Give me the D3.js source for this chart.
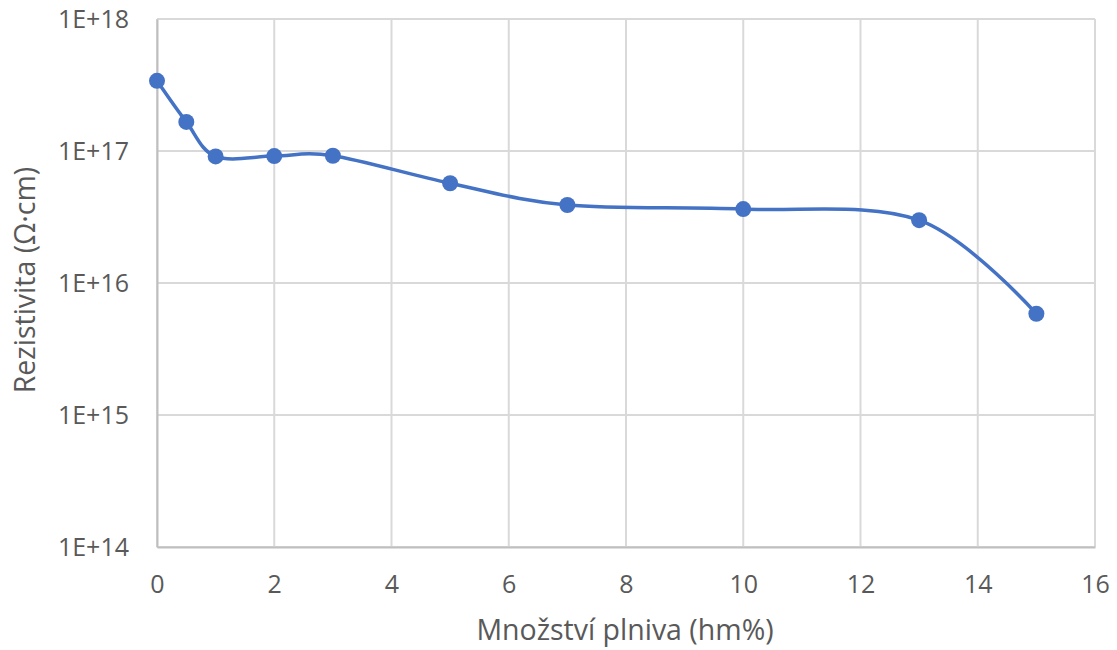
<!DOCTYPE html>
<html>
<head>
<meta charset="utf-8">
<script src="https://cdn.jsdelivr.net/npm/d3@7/dist/d3.min.js"></script>
<style>
  html, body { margin: 0; padding: 0; background: #fff; }
  svg { display: block; }
  text { font-family: "Open Sans", "Noto Sans", sans-serif; fill: #595959; }
</style>
</head>
<body>
<svg id="chart" width="1117" height="650"></svg>
<script>
// Filler content (wt%) and measured resistivity (Ω·cm)
const filler = [0, 0.5, 1, 2, 3, 5, 7, 10, 13, 15];
const resistivity = [3.4e17, 1.66e17, 9.1e16, 9.15e16, 9.2e16, 5.7e16, 3.9e16, 3.63e16, 2.99e16, 5.85e15];

const xTicks = [0, 2, 4, 6, 8, 10, 12, 14, 16];
const yTicks = [1e14, 1e15, 1e16, 1e17, 1e18];
const xTitle = "Množství plniva (hm%)";
const yTitle = "Rezistivita (Ω·cm)";

const svg = d3.select("#chart");
const margin = { left: 157, right: 22, top: 19, bottom: 103 };
const W = 1117, H = 650;

const x = d3.scaleLinear().domain([0, 16]).range([margin.left, W - margin.right]);
const y = d3.scaleLog().domain([1e14, 1e18]).range([H - margin.bottom, margin.top]);

const yFmt = v => "1E+" + Math.round(Math.log10(v));

// Gridlines
svg.append("g")
  .selectAll("line.h")
  .data(yTicks)
  .join("line")
  .attr("x1", x(0)).attr("x2", x(16))
  .attr("y1", d => y(d)).attr("y2", d => y(d))
  .attr("stroke", "#d9d9d9").attr("stroke-width", 2);

svg.append("g")
  .selectAll("line.v")
  .data(xTicks)
  .join("line")
  .attr("x1", d => x(d)).attr("x2", d => x(d))
  .attr("y1", y(1e14)).attr("y2", y(1e18))
  .attr("stroke", "#d9d9d9").attr("stroke-width", 2);

// Axes
const xAxis = svg.append("g")
  .attr("transform", `translate(0,${y(1e14)})`)
  .call(d3.axisBottom(x).tickValues(xTicks).tickSize(0).tickPadding(28).tickFormat(d3.format("d")));
xAxis.select(".domain").attr("stroke", "#bfbfbf").attr("stroke-width", 2);
xAxis.selectAll("text").style("font-size", "25px").attr("fill", "#595959");

const yAxis = svg.append("g")
  .attr("transform", `translate(${x(0)},0)`)
  .call(d3.axisLeft(y).tickValues(yTicks).tickSize(0).tickPadding(28).tickFormat(yFmt));
yAxis.select(".domain").attr("stroke", "#bfbfbf").attr("stroke-width", 2);
yAxis.selectAll("text").style("font-size", "25px").attr("fill", "#595959");

// Axis titles
svg.append("text")
  .attr("x", (x(0) + x(16)) / 2 - 1).attr("y", 632)
  .attr("text-anchor", "middle").attr("dominant-baseline", "middle")
  .style("font-size", "28.5px")
  .text(xTitle);

svg.append("text")
  .attr("transform", `translate(27,${(y(1e14) + y(1e18)) / 2 - 3}) rotate(-90)`)
  .attr("text-anchor", "middle").attr("dominant-baseline", "middle")
  .style("font-size", "28.5px")
  .text(yTitle);

// Series
const pts = filler.map((f, i) => [f, resistivity[i]]);
const line = d3.line()
  .x(d => x(d[0])).y(d => y(d[1]))
  .curve(d3.curveCardinal.tension(0));

svg.append("path")
  .datum(pts)
  .attr("d", line)
  .attr("fill", "none")
  .attr("stroke", "#4472C4")
  .attr("stroke-width", 3.5);

svg.append("g")
  .selectAll("circle")
  .data(pts)
  .join("circle")
  .attr("cx", d => x(d[0])).attr("cy", d => y(d[1]))
  .attr("r", 8)
  .attr("fill", "#4472C4");
</script>
</body>
</html>
